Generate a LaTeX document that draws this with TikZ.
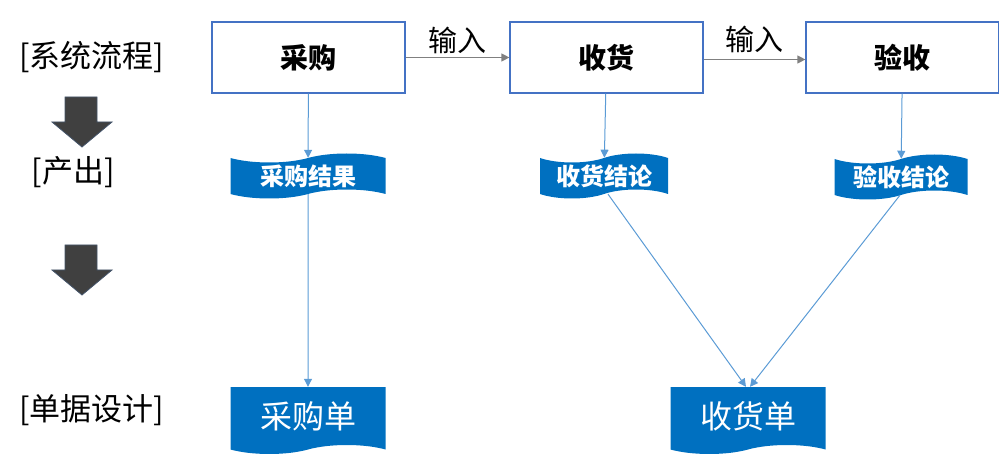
\documentclass[tikz,border=0pt]{standalone}
\usepackage{fontspec}
\newfontfamily\cjk{Noto Sans CJK SC}
\usetikzlibrary{arrows.meta,shapes.symbols}

\definecolor{boxline}{RGB}{68,114,196}
\definecolor{linkblue}{RGB}{91,155,213}
\definecolor{feedgray}{RGB}{128,128,128}
\definecolor{docblue}{RGB}{0,112,192}
\definecolor{arrowgray}{RGB}{64,64,64}
\definecolor{arrowline}{RGB}{68,84,106}

\begin{document}
\begin{tikzpicture}[x=1pt,y=-1pt,
  flowbox/.style={draw=boxline,line width=1.2pt,minimum width=193pt,
    minimum height=71pt,font=\cjk\bfseries\fontsize{28}{32}\selectfont},
  result/.style={tape,fill=docblue,text=white,inner sep=0pt,
    minimum height=45pt,tape bend height=9pt,
    font=\cjk\bfseries\fontsize{24}{28}\selectfont},
  sheet/.style={tape,tape bend top=none,fill=docblue,text=white,inner sep=0pt,
    minimum width=155pt,minimum height=67pt,tape bend height=9pt,
    font=\cjk\fontsize{32}{36}\selectfont},
  stage/.style={font=\cjk\fontsize{31}{36}\selectfont},
  link/.style={draw=linkblue,line width=1pt,-{Triangle[width=8pt,length=8pt]}},
  feed/.style={draw=feedgray,line width=1.2pt,-{Triangle[width=8pt,length=8pt]}},
  feedlabel/.style={font=\cjk\fontsize{29}{32}\selectfont}]

\newcommand\stagearrow[1]{%
  \filldraw[fill=arrowgray,draw=arrowline,line width=0.8pt]
  (65,#1) -- (97,#1) -- (97,#1+25) -- (112,#1+25) -- (82,#1+50)
  -- (52,#1+25) -- (65,#1+25) -- cycle;}

  \useasboundingbox (0,0) rectangle (999,454);

  %% stages
  \node[stage] (flow) at (92,57) {[系统流程]};
  \node[stage] (output) at (73,172) {[产出]};
  \node[stage] (forms) at (92,410) {[单据设计]};
  \stagearrow{97}
  \stagearrow{245}

  %% process
  \node[flowbox] (buy) at (308.5,57.5) {采购};
  \node[flowbox] (recv) at (606.5,57.5) {收货};
  \node[flowbox] (check) at (902.5,57.5) {验收};

  \draw[feed] (buy) -- node[feedlabel,above=0pt] (in1) {输入} (recv);
  \draw[feed] (recv.east) ++(0,2) coordinate (recvout) -- (recvout -| check.west)
    node[feedlabel,midway,above=3pt] (in2) {输入};

  %% results
  \node[result,minimum width=155pt] (buyres) at (308,176) {采购结果};
  \node[result,minimum width=128pt] (recvres) at (604,176) {收货结论};
  \node[result,minimum width=133pt] (checkres) at (901,177) {验收结论};

  %% forms
  \node[sheet] (buyform) at (308,416) {采购单};
  \node[sheet] (recvform) at (748,416) {收货单};

  %% links
  \draw[link] (buy) -- (buyres);
  \draw[link] (recv) -- (recvres);
  \draw[link] (check) -- (checkres);
  \draw[link] (buyres) -- (buyform);
  \draw[link] ([xshift=4pt]recvres.south) -- ([xshift=-2pt]recvform.north);
  \draw[link] ([xshift=-1pt]checkres.south) -- ([xshift=2pt]recvform.north);

\end{tikzpicture}
\end{document}
